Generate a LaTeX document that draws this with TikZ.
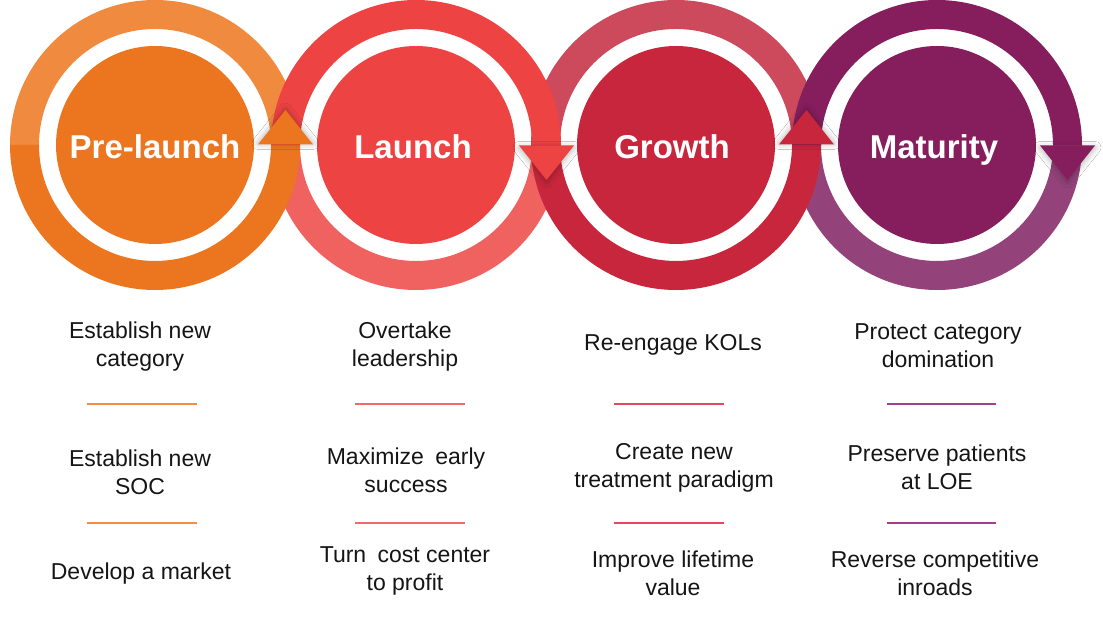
\documentclass[tikz,border=0pt]{standalone}
\usepackage{fontspec}
\setmainfont{Liberation Sans}
\usetikzlibrary{shadows.blur}
\definecolor{orD}{HTML}{EC761F}
\definecolor{orL}{HTML}{F08A3E}
\definecolor{reD}{HTML}{EE4343}
\definecolor{reL}{HTML}{F0625F}
\definecolor{crD}{HTML}{C8263D}
\definecolor{crL}{HTML}{CC4A5B}
\definecolor{puD}{HTML}{861E5E}
\definecolor{puL}{HTML}{94437A}
\definecolor{txt}{HTML}{151515}
\definecolor{ln1}{HTML}{F28C48}
\definecolor{ln2}{HTML}{EF6B6B}
\definecolor{ln3}{HTML}{E2485E}
\definecolor{ln4}{HTML}{A0408A}
\newcommand\RingTop[2]{\fill[#2] (#1+145,475) arc[start angle=0,end angle=180,radius=145] -- (#1-116,475) arc[start angle=180,end angle=0,radius=116] -- cycle;}
\newcommand\RingBot[2]{\fill[#2] (#1+145,475) arc[start angle=0,end angle=-180,radius=145] -- (#1-116,475) arc[start angle=180,end angle=360,radius=116] -- cycle;}
\newcommand\HeadUp[2]{\fill[#2,blur shadow={shadow xshift=0pt,shadow yshift=1pt,shadow blur radius=6pt,shadow opacity=30}] (#1+103,475.5) -- (#1+130.5,510) -- (#1+158,475.5) -- cycle;}
\newcommand\HeadDown[2]{\fill[#2,blur shadow={shadow xshift=0pt,shadow yshift=-2pt,shadow blur radius=6pt,shadow opacity=30}] (#1+103,474.5) -- (#1+130.5,440) -- (#1+158,474.5) -- cycle;}
\tikzset{
  phase/.style={text=white,font=\fontsize{33}{36}\selectfont\bfseries,anchor=base},
  body/.style={text=txt,font=\fontsize{23}{28}\selectfont,align=center,anchor=center},
  sep/.style={line width=2pt}
}
\begin{document}
\begin{tikzpicture}[x=1pt,y=1pt]
\useasboundingbox (0,0) rectangle (1103,620);
\fill[white] (0,0) rectangle (1103,620);
% light halves
\RingTop{155}{orL}
\RingBot{416}{reL}
\RingTop{676}{crL}
\RingBot{937}{puL}
% arrow halves
\RingBot{155}{orD}
\RingTop{416}{reD}
\RingBot{676}{crD}
\RingTop{937}{puD}
% discs
\fill[orD] (155,475) circle[radius=99];
\fill[reD] (416,475) circle[radius=99];
\fill[crD] (676,475) circle[radius=99];
\fill[puD] (937,475) circle[radius=99];
% arrow heads
\HeadUp{155}{orD}
\HeadDown{416}{reD}
\HeadUp{676}{crD}
\HeadDown{937}{puD}
% phase labels
\node[phase] (t1) at (155,461) {Pre-launch};
\node[phase] (t2) at (413,461) {Launch};
\node[phase] (t3) at (672,461) {Growth};
\node[phase] (t4) at (934,461) {Maturity};
% column 1
\node[body] (a1) at (140,273) {Establish new\\category};
\node[body] (b1) at (140,148) {Establish new\\SOC};
\node[body] (c1) at (141,46) {Develop a market};
\draw[sep,ln1] (87,215.7) -- (197,215.7);
\draw[sep,ln1] (87,97.3) -- (197,97.3);
% column 2
\node[body] (a2) at (405,273) {Overtake\\leadership};
\node[body] (b2) at (406,150) {Maximize\hspace{5pt} early\\success};
\node[body] (c2) at (405,49) {Turn\hspace{5pt} cost center\\to profit};
\draw[sep,ln2] (355,215.7) -- (465,215.7);
\draw[sep,ln2] (355,97.3) -- (465,97.3);
% column 3
\node[body] (a3) at (673,275) {Re-engage KOLs};
\node[body] (b3) at (674,152) {Create new\\treatment paradigm};
\node[body] (c3) at (673,47) {Improve lifetime\\value};
\draw[sep,ln3] (614,215.7) -- (724,215.7);
\draw[sep,ln3] (614,97.3) -- (724,97.3);
% column 4
\node[body] (a4) at (938,274) {Protect category\\domination};
\node[body] (b4) at (937,153) {Preserve patients\\at LOE};
\node[body] (c4) at (935,47) {Reverse competitive\\inroads};
\draw[sep,ln4] (887,215.7) -- (996,215.7);
\draw[sep,ln4] (887,97.3) -- (996,97.3);
\end{tikzpicture}
\end{document}
